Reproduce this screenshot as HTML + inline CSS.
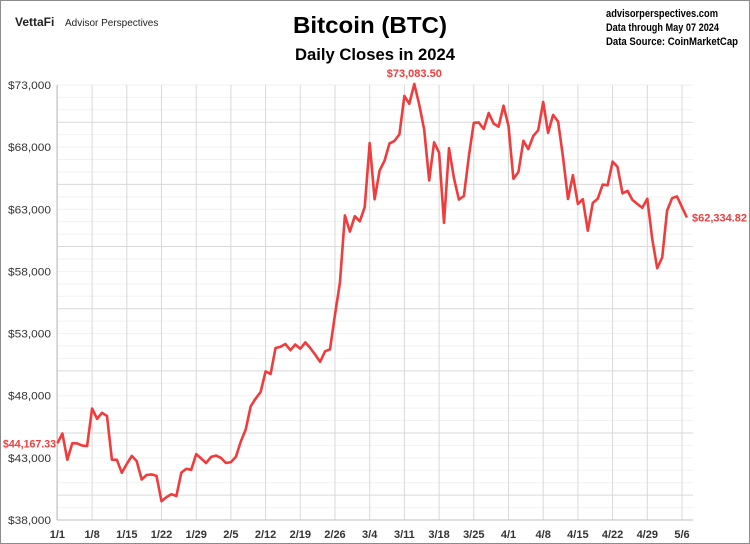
<!DOCTYPE html><html><head><meta charset="utf-8"><style>
body{margin:0;background:#fff}
#w{position:relative;width:748px;height:542px;border:1px solid #8c8c8c;background:#fff;font-family:"Liberation Sans",sans-serif;overflow:hidden}
</style></head><body><div id="w">
<svg id="s" width="748" height="542" xmlns="http://www.w3.org/2000/svg" font-family="Liberation Sans, sans-serif"></svg>
</div>
<script>
const d=[44167,44958,42848,44180,44162,43989,43943,46970,46139,46627,46368,42853,42842,41796,42511,43154,42742,41262,41618,41665,41545,39507,39845,40077,39934,41816,42120,42036,43300,42946,42582,43075,43185,42992,42583,42658,43084,44318,45302,47147,47771,48293,49958,49742,51826,51938,52160,51663,52122,51779,52284,51839,51304,50731,51571,51733,54522,57085,62504,61198,62440,62029,63167,68330,63801,66106,66925,68300,68498,69019,72123,71481,73083,71396,69403,65315,68390,67548,61912,67913,65491,63778,64062,67234,69958,69987,69455,70744,69892,69645,71334,69702,65446,65980,68508,67837,68896,69362,71632,69139,70587,70060,67195,63821,65738,63426,63811,61276,63512,63843,64994,64926,66837,66407,64276,64481,63755,63419,63114,63841,60636,58254,59123,62889,63891,64031,63161,62335];
const X=i=>56.4+i*4.957, Y=v=>519-(v-38000)*0.01243;
let h='';
for(let k=38000;k<=73000;k+=1000){const y=Y(k);h+=`<line x1="56" x2="692" y1="${y}" y2="${y}" stroke="${k%5000==0?'#d9d9d9':'#f2f2f2'}" stroke-width="1"/>`;}
const lab=['1/1','1/8','1/15','1/22','1/29','2/5','2/12','2/19','2/26','3/4','3/11','3/18','3/25','4/1','4/8','4/15','4/22','4/29','5/6'];
lab.forEach((l,j)=>{const x=X(j*7);h+=`<line x1="${x}" x2="${x}" y1="84" y2="519" stroke="#d9d9d9"/><text x="${x}" y="537" font-size="11" font-weight="bold" text-anchor="middle" fill="#333">${l}</text>`;});
for(let k=38000;k<=73000;k+=5000){h+=`<text x="50" y="${Y(k)+4}" font-size="11" text-anchor="end" fill="#333" textLength="43" lengthAdjust="spacingAndGlyphs">$${(k/1000)},000</text>`;}
h+=`<line x1="56" x2="56" y1="84" y2="519" stroke="#bfbfbf"/><line x1="56" x2="692" y1="519" y2="519" stroke="#bfbfbf"/>`;
h+=`<polyline fill="none" stroke="#f03c3c" stroke-width="2.6" stroke-linejoin="round" points="${d.map((v,i)=>X(i).toFixed(1)+','+Y(v).toFixed(1)).join(' ')}"/>`;
h+=`<text x="2" y="${Y(44167)+4}" font-size="11" font-weight="bold" fill="#f03c3c" textLength="53" lengthAdjust="spacingAndGlyphs">$44,167.33</text>`;
h+=`<text x="${X(72)}" y="76" font-size="11" font-weight="bold" text-anchor="middle" fill="#f03c3c">$73,083.50</text>`;
h+=`<text x="691" y="${Y(62335)+4}" font-size="11" font-weight="bold" fill="#f03c3c" textLength="55" lengthAdjust="spacingAndGlyphs">$62,334.82</text>`;
h+=`<text x="14" y="25" font-size="12" font-weight="bold" fill="#222">VettaFi</text><text x="64" y="25" font-size="10" fill="#222">Advisor Perspectives</text>`;
h+=`<text x="292" y="32" font-size="23" font-weight="bold" fill="#000" textLength="154" lengthAdjust="spacingAndGlyphs">Bitcoin (BTC)</text>`;
h+=`<text x="294" y="59" font-size="17" font-weight="bold" fill="#000" textLength="160" lengthAdjust="spacingAndGlyphs">Daily Closes in 2024</text>`;
h+=`<g font-size="11" font-weight="bold" fill="#000"><text x="605" y="16" textLength="112" lengthAdjust="spacingAndGlyphs">advisorperspectives.com</text><text x="605" y="30" textLength="113" lengthAdjust="spacingAndGlyphs">Data through May 07 2024</text><text x="605" y="44" textLength="132" lengthAdjust="spacingAndGlyphs">Data Source: CoinMarketCap</text></g>`;
document.getElementById('s').innerHTML=h;
</script></body></html>
